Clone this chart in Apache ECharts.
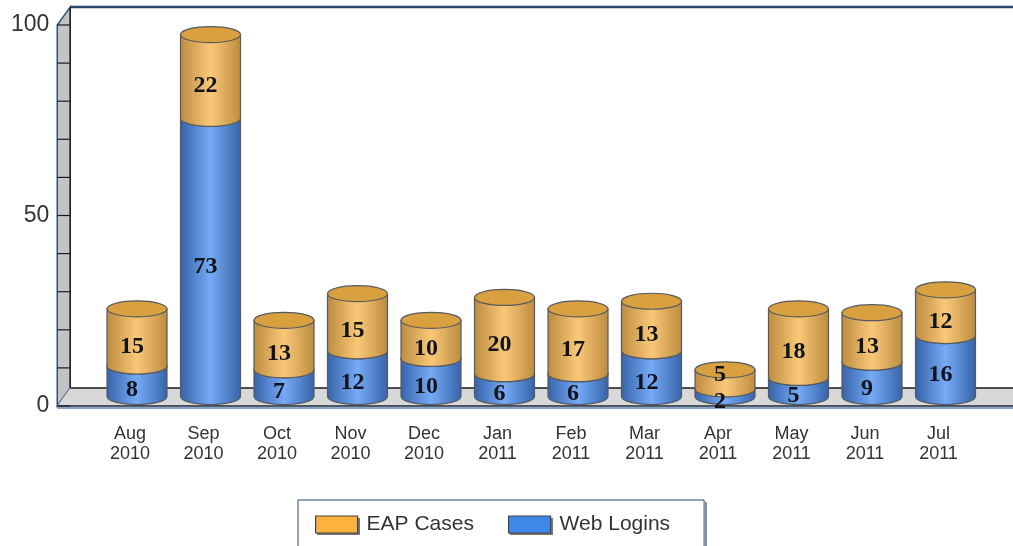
<!DOCTYPE html>
<html>
<head>
<meta charset="utf-8">
<style>
  html, body { margin: 0; padding: 0; background: #fff; overflow: hidden; }
</style>
<script src="https://cdn.jsdelivr.net/npm/echarts@6/dist/echarts.min.js"></script>
</head>
<body>
<div id="main" style="width:1013px;height:546px;"></div>
<script>
var categories = ["Aug\n2010", "Sep\n2010", "Oct\n2010", "Nov\n2010", "Dec\n2010", "Jan\n2011",
  "Feb\n2011", "Mar\n2011", "Apr\n2011", "May\n2011", "Jun\n2011", "Jul\n2011"];
var webLogins = [8, 73, 7, 12, 10, 6, 6, 12, 2, 5, 9, 16];
var eapCases = [15, 22, 13, 15, 10, 20, 17, 13, 5, 18, 13, 12];
var wallTicks = [0, 10, 20, 30, 40, 50, 60, 70, 80, 90, 100];

// 3d look of the plot box, in pixels
var depthX = 13, depthY = 18;
var barDx = 7, barDy = -9.5;
var rx = 30, ry = 8;

var myChart = echarts.init(document.getElementById("main"));

function gradient(edge, mid) {
  return new echarts.graphic.LinearGradient(0, 0, 1, 0, [
    { offset: 0, color: edge },
    { offset: 0.5, color: mid },
    { offset: 1, color: edge }
  ]);
}

function renderWalls(params, api) {
  var x0 = params.coordSys.x - 36;
  var right = api.getWidth();
  var yTop = api.coord([0, 100])[1];
  var yBase = api.coord([0, 0])[1];
  var children = [
    {
      type: "polygon",
      shape: { points: [[x0, yTop], [x0 + depthX, yTop - depthY], [x0 + depthX, yBase - depthY], [x0, yBase]] },
      style: { fill: "#c3c3c4", stroke: "#2f5380", lineWidth: 1.5 }
    },
    {
      type: "polygon",
      shape: { points: [[x0, yBase], [x0 + depthX, yBase - depthY], [right, yBase - depthY], [right, yBase]] },
      style: { fill: "#d8d8d8" }
    }
  ];
  wallTicks.forEach(function(v) {
    var y = api.coord([0, v])[1];
    children.push({
      type: "line",
      shape: { x1: x0, y1: y, x2: x0 + depthX, y2: y },
      style: { stroke: "#1a1a1a", lineWidth: 1.2 }
    });
  });
  children.push(
    { type: "line", shape: { x1: x0 + depthX, y1: yTop - depthY, x2: right, y2: yTop - depthY }, style: { stroke: "#2b4a70", lineWidth: 2.5 } },
    { type: "line", shape: { x1: x0 + depthX, y1: yTop - depthY, x2: x0 + depthX, y2: yBase - depthY }, style: { stroke: "#20262e", lineWidth: 1.5 } },
    { type: "line", shape: { x1: x0 + depthX, y1: yBase - depthY, x2: right, y2: yBase - depthY }, style: { stroke: "#1a1a1a", lineWidth: 1.5 } },
    { type: "line", shape: { x1: x0, y1: yBase, x2: right, y2: yBase }, style: { stroke: "#1c2530", lineWidth: 1.5 } },
    { type: "line", shape: { x1: x0, y1: yBase + 2, x2: right, y2: yBase + 2 }, style: { stroke: "#5f86b5", lineWidth: 1.5 } }
  );
  return { type: "group", children: children };
}

function renderCylinder(edge, mid, cap) {
  return function(params, api) {
    var i = api.value(0);
    var start = api.value(1);
    var end = api.value(2);
    var low = api.coord([i, start]);
    var high = api.coord([i, end]);
    var cx = low[0] + barDx;
    var y0 = low[1] + barDy;
    var y1 = high[1] + barDy;
    var body = "M" + (cx - rx) + " " + y1 + " L" + (cx + rx) + " " + y1 + " L" + (cx + rx) + " " + y0 +
      " A" + rx + " " + ry + " 0 0 1 " + (cx - rx) + " " + y0 + " Z";
    var labelY = (low[1] + high[1]) / 2 - 0.5;
    // the original pushes the upper label away when both parts are too short
    if (start > 0 && end < 10) labelY -= 14;
    return {
      type: "group",
      children: [
        { type: "path", shape: { pathData: body }, style: { fill: gradient(edge, mid), stroke: "#555a60", lineWidth: 1.2 } },
        { type: "ellipse", shape: { cx: cx, cy: y1, rx: rx, ry: ry }, style: { fill: cap, stroke: "#555a60", lineWidth: 1.2 } },
        {
          type: "text",
          z2: 10,
          style: {
            text: String(end - start),
            x: cx - 5,
            y: labelY,
            align: "center",
            verticalAlign: "middle",
            fill: "#10131a",
            font: "bold 24px 'Liberation Serif'"
          }
        }
      ]
    };
  };
}

var webData = webLogins.map(function(v, i) {
  return [i, 0, v];
});
var eapData = eapCases.map(function(v, i) {
  return [i, webLogins[i], webLogins[i] + v];
});

myChart.setOption({
  animation: false,
  grid: { left: 93.25, top: 25, width: 882, bottom: 140 },
  // drop shadows of the legend box and swatches, a stroked shape would shadow its own fill
  graphic: [
    { type: "rect", z: 1, shape: { x: 300, y: 502, width: 407, height: 60 }, style: { fill: "#8a94a3" } },
    { type: "rect", z: 1, shape: { x: 298, y: 500, width: 407, height: 60 }, style: { fill: "#fff" } },
    { type: "rect", z: 1, shape: { x: 317, y: 518, width: 43, height: 17 }, style: { fill: "#777" } },
    { type: "rect", z: 1, shape: { x: 510, y: 518, width: 43, height: 17 }, style: { fill: "#777" } }
  ],
  legend: {
    data: ["EAP Cases", "Web Logins"],
    left: 298,
    top: 500,
    padding: [14, 34, 30, 17],
    itemGap: 34,
    itemWidth: 42,
    itemHeight: 17,
    icon: "rect",
    borderColor: "#2b4a70",
    borderWidth: 1,
    itemStyle: { borderColor: "#444", borderWidth: 1.2 },
    textStyle: { fontFamily: "Liberation Sans", fontSize: 21, color: "#333", padding: [0, 0, 0, 4] }
  },
  xAxis: {
    type: "category",
    data: categories,
    axisLine: { show: false },
    axisTick: { show: false },
    axisLabel: {
      interval: 0,
      margin: 18,
      lineHeight: 20,
      fontFamily: "Liberation Sans",
      fontSize: 18,
      color: "#333"
    }
  },
  yAxis: {
    type: "value",
    min: 0,
    max: 100,
    interval: 50,
    offset: 37,
    axisLine: { show: false },
    axisTick: { show: false },
    splitLine: { show: false },
    axisLabel: { margin: 7, fontFamily: "Liberation Sans", fontSize: 23, color: "#333" }
  },
  series: [
    {
      name: "walls",
      type: "custom",
      silent: true,
      clip: false,
      data: [[0, 0]],
      renderItem: renderWalls
    },
    {
      name: "Web Logins",
      type: "custom",
      clip: false,
      itemStyle: { color: "#3f87e8" },
      encode: { x: 0, y: [1, 2] },
      data: webData,
      renderItem: renderCylinder("#3563a8", "#76aaf6", "#3f78c8")
    },
    {
      name: "EAP Cases",
      type: "custom",
      clip: false,
      itemStyle: { color: "#fdb13f" },
      encode: { x: 0, y: [1, 2] },
      data: eapData,
      renderItem: renderCylinder("#bd8b3f", "#f9c877", "#d9a03f")
    }
  ]
});
</script>
</body>
</html>
